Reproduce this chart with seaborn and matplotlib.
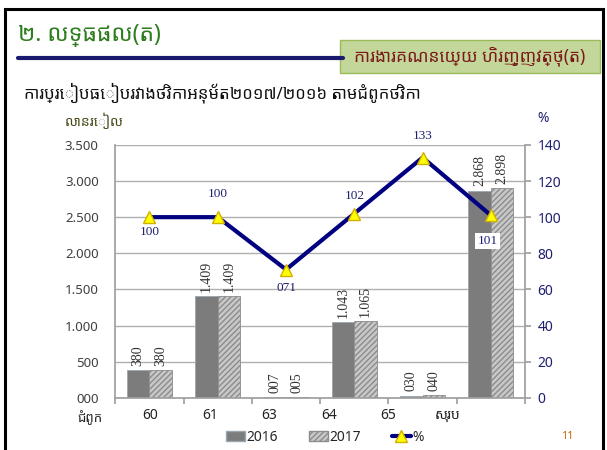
import numpy as np
import pandas as pd
import matplotlib
matplotlib.use('Agg')
import matplotlib.pyplot as plt
from matplotlib.patches import Rectangle
from matplotlib.lines import Line2D
import seaborn as sns

# data
chapters = ['60', '61', '63', '64', '65', 'សរុប']
budget_2016 = [380, 1409, 7, 1043, 30, 2868]
budget_2017 = [380, 1409, 5, 1065, 40, 2898]
pct = [100, 100, 71, 102, 133, 101]
labels_2016 = ['380', '1.409', '007', '1.043', '030', '2.868']
labels_2017 = ['380', '1.409', '005', '1.065', '040', '2.898']
pct_labels = ['100', '100', '071', '102', '133', '101']
left_ticks = [0, 500, 1000, 1500, 2000, 2500, 3000, 3500]
left_ticklabels = ['000', '500', '1.000', '1.500', '2.000', '2.500', '3.000', '3.500']
right_ticks = [0, 20, 40, 60, 80, 100, 120, 140]

sns.set_theme(style='white')
plt.rcParams['font.family'] = ['Noto Sans Khmer', 'DejaVu Sans']

df = pd.DataFrame({
    'chapter': chapters * 2,
    'value': budget_2016 + budget_2017,
    'year': ['2016'] * 6 + ['2017'] * 6,
})

fig = plt.figure(figsize=(6.07, 4.5), dpi=100)
ax = fig.add_axes([0.19, 0.116, 0.675, 0.562])

sns.barplot(data=df, x='chapter', y='value', hue='year', order=chapters,
            palette=['#7c7c7c', '#c8c8c8'], width=0.66, ax=ax,
            edgecolor='#9aa6b0', linewidth=0.6, legend=False)

# hatching on the 2017 bars
n = len(chapters)
for p in ax.patches[n:2 * n]:
    p.set_hatch('//////')
    p.set_edgecolor('#8c8c8c')

# vertical value labels above bars
for i, p in enumerate(ax.patches[:2 * n]):
    lab = labels_2016[i] if i < n else labels_2017[i - n]
    ax.text(p.get_x() + p.get_width() / 2, p.get_height() + 60, lab,
            rotation=90, ha='center', va='bottom', fontsize=10,
            family='Liberation Serif', color='#333333')

ax.set_ylim(0, 3500)
ax.set_xlim(-0.5, n - 0.5)
ax.set_yticks(left_ticks)
ax.set_yticklabels(left_ticklabels, fontsize=9.5, color='#404040')
ax.yaxis.grid(True, color='#b0b0b0', lw=1)
ax.set_axisbelow(True)
ax.set_xticks(np.arange(n + 1) - 0.5)
ax.set_xticklabels([])
ax.tick_params(axis='x', length=4, color='#a0a0a0', direction='out', bottom=True)
ax.tick_params(axis='y', length=0, pad=12)
ax.set_xlabel('')
ax.set_ylabel('')
for s in ['top', 'right']:
    ax.spines[s].set_visible(False)
for s in ['left', 'bottom']:
    ax.spines[s].set_color('#a0a0a0')

# category names sit slightly off the bar centres on the original
for i, c in enumerate(chapters):
    ax.text(0.015 + 0.871 * i, -0.07, c, transform=ax.get_xaxis_transform(),
            ha='center', va='center', fontsize=10, color='#222222')

ax2 = ax.twinx()
sns.lineplot(x=np.arange(n), y=pct, ax=ax2, color='#000080', lw=3,
             marker='^', markersize=9, markerfacecolor='#ffff00',
             markeredgecolor='#d4b000', markeredgewidth=1)
ax2.set_ylim(0, 140)
ax2.set_yticks(right_ticks)
ax2.set_yticklabels([str(t) for t in right_ticks], fontsize=10, color='#1f1f70')
ax2.tick_params(axis='y', length=4, color='#a0a0a0', direction='out', pad=5)
ax2.spines['right'].set_color('#a0a0a0')
for s in ['top', 'left', 'bottom']:
    ax2.spines[s].set_visible(False)
ax2.set_ylabel('')

# percent labels: above or below the marker
offsets = [-8, 13, -10, 9.5, 12, -14]
for i, (v, lab) in enumerate(zip(pct, pct_labels)):
    kw = dict(ha='center', va='center', fontsize=9.5, family='Liberation Serif',
              color='#1f1f70')
    if i == n - 1:
        kw['bbox'] = dict(facecolor='white', edgecolor='none', pad=1.5)
    ax2.text(i - 0.05 if i == n - 1 else i, v + offsets[i], lab, **kw)

# axis captions
fig.text(0.107, 0.73, 'លានរៀល', fontsize=10, color='#4a4a1a', ha='left', va='center')
fig.text(0.895, 0.737, '%', fontsize=10, color='#1f1f70', ha='center', va='center')
fig.text(0.148, 0.072, 'ជំពូក', fontsize=9.5, color='#222222', ha='center', va='center')

# legend
handles = [
    Rectangle((0, 0), 1, 1, facecolor='#7c7c7c', edgecolor='#9aa6b0'),
    Rectangle((0, 0), 1, 1, facecolor='#c8c8c8', edgecolor='#8c8c8c', hatch='//////'),
    Line2D([], [], color='#000080', lw=3, marker='^', markersize=8,
           markerfacecolor='#ffff00', markeredgecolor='#d4b000'),
]
fig.legend(handles, ['2016', '2017', '%'], loc='center', ncol=3,
           bbox_to_anchor=(0.535, 0.028), frameon=False, fontsize=10,
           handlelength=1.4, handletextpad=0.1, columnspacing=2.2)

# slide decoration
fig.add_artist(Rectangle((0.009, -0.05), 0.985, 1.03, transform=fig.transFigure,
                         fill=False, edgecolor='black', lw=2.2))
fig.text(0.03, 0.922, '២. លទ្ធផល(ត)', fontsize=16.5, fontweight='bold',
         color='#2e7d1e', ha='left', va='center')
fig.add_artist(Line2D([0.03, 0.565], [0.871, 0.871], transform=fig.transFigure,
                      color='#1a1a70', lw=3))
fig.add_artist(Rectangle((0.56, 0.838), 0.428, 0.074, transform=fig.transFigure,
                         facecolor='#c4d79b', edgecolor='#9bbb59', lw=1))
fig.text(0.774, 0.875, 'ការងារគណនេយ្យ ហិរញ្ញវត្ថុ(ត)', fontsize=12.5, fontweight='bold',
         color='#7b1a1a', ha='center', va='center')
fig.text(0.04, 0.795, 'ការប្រៀបធៀបរវាងថវិកាអនុម័ត២០១៧/២០១៦ តាមជំពូកថវិកា', fontsize=12,
         color='#111111', ha='left', va='center')
fig.text(0.935, 0.03, '11', fontsize=8, color='#c06000', ha='center', va='center')

fig.savefig('out.png', dpi=100)
